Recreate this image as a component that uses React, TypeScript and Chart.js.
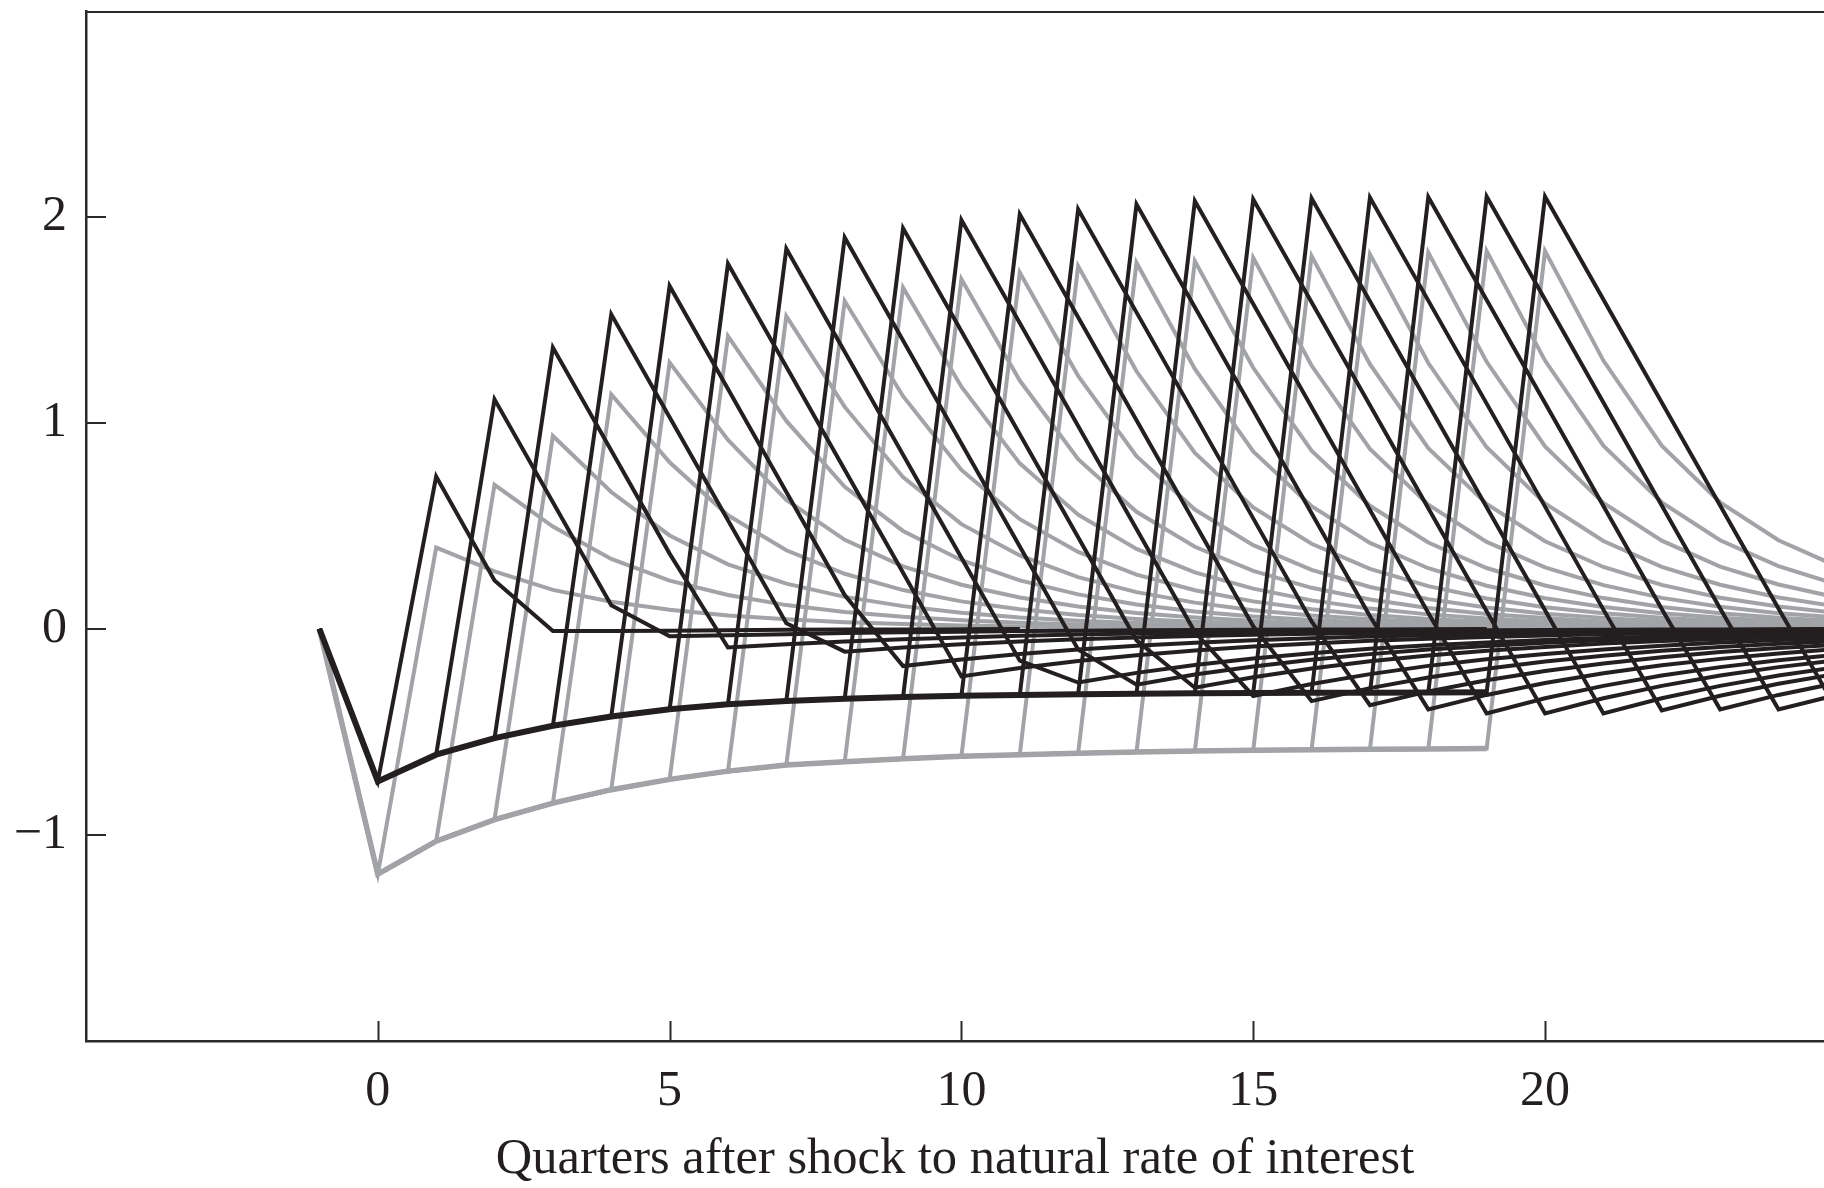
import React, { useEffect, useRef } from 'react';
import { Chart, registerables } from 'chart.js';

Chart.register(...registerables);

// ---------- data ----------
const quarters = [-1, 0, 1, 2, 3, 4, 5, 6, 7, 8, 9, 10, 11, 12, 13, 14, 15, 16, 17, 18, 19, 20, 21, 22, 23, 24, 25];
const xTickValues = [0, 5, 10, 15, 20];
const yTickValues = [-1, 0, 1, 2];
const xTitle = 'Quarters after shock to natural rate of interest';

// common path while the disturbance lasts (t = 0..19)
const envBlack = [-0.74, -0.61, -0.53, -0.47, -0.425, -0.39, -0.365, -0.35, -0.338, -0.33, -0.324, -0.32, -0.317, -0.314, -0.312, -0.311, -0.31, -0.309, -0.308, -0.307];
const envGray = [-1.19, -1.03, -0.925, -0.845, -0.78, -0.73, -0.69, -0.66, -0.645, -0.63, -0.618, -0.61, -0.603, -0.597, -0.592, -0.589, -0.586, -0.584, -0.582, -0.58];

// value in the quarter the disturbance ends (k = 1..20)
const peakBlack = [0.74, 1.115, 1.366, 1.528, 1.665, 1.773, 1.846, 1.9, 1.945, 1.985, 2.013, 2.037, 2.062, 2.078, 2.086, 2.091, 2.094, 2.097, 2.099, 2.099];
const peakGray = [0.395, 0.7, 0.937, 1.139, 1.293, 1.422, 1.519, 1.592, 1.657, 1.698, 1.73, 1.762, 1.778, 1.786, 1.802, 1.811, 1.819, 1.827, 1.835, 1.835];

// path after that quarter
const tailBlack = [
  [0.235, -0.01, -0.01, -0.008, -0.006, -0.004, -0.003, -0.002, -0.001, 0],
  [0.615, 0.115, -0.035, -0.03, -0.025, -0.02, -0.016, -0.013, -0.01, -0.008, -0.006, -0.005, -0.004, -0.003, -0.002, -0.001, 0],
  [0.866, 0.366, -0.09, -0.074, -0.061, -0.05, -0.041, -0.033, -0.027, -0.022, -0.018, -0.015, -0.012, -0.01, -0.008, -0.006, -0.005, -0.004, -0.003, -0.002, -0.001, 0],
  [1.028, 0.528, 0.028, -0.11, -0.09, -0.074, -0.061, -0.05, -0.041, -0.034, -0.028, -0.023, -0.019, -0.015, -0.012, -0.01, -0.008, -0.007, -0.005, -0.004, -0.003],
  [1.165, 0.665, 0.165, -0.18, -0.148, -0.121, -0.099, -0.081, -0.067, -0.055, -0.045, -0.037, -0.03, -0.025, -0.02, -0.017, -0.014, -0.011, -0.009, -0.007],
  [1.273, 0.773, 0.273, -0.23, -0.189, -0.155, -0.127, -0.104, -0.085, -0.07, -0.057, -0.047, -0.039, -0.032, -0.026, -0.021, -0.017, -0.014, -0.012],
  [1.346, 0.846, 0.346, -0.154, -0.26, -0.213, -0.175, -0.143, -0.118, -0.096, -0.079, -0.065, -0.053, -0.044, -0.036, -0.029, -0.024, -0.02],
  [1.4, 0.9, 0.4, -0.1, -0.27, -0.221, -0.182, -0.149, -0.122, -0.1, -0.082, -0.067, -0.055, -0.045, -0.037, -0.031, -0.025],
  [1.445, 0.945, 0.445, -0.055, -0.285, -0.234, -0.192, -0.157, -0.129, -0.106, -0.087, -0.071, -0.058, -0.048, -0.039, -0.032],
  [1.485, 0.985, 0.485, -0.015, -0.325, -0.267, -0.219, -0.179, -0.147, -0.121, -0.099, -0.081, -0.066, -0.054, -0.045],
  [1.513, 1.013, 0.513, 0.013, -0.35, -0.287, -0.235, -0.193, -0.158, -0.13, -0.106, -0.087, -0.072, -0.059],
  [1.537, 1.037, 0.537, 0.037, -0.37, -0.303, -0.249, -0.204, -0.167, -0.137, -0.112, -0.092, -0.076],
  [1.562, 1.062, 0.562, 0.062, -0.39, -0.32, -0.262, -0.215, -0.176, -0.145, -0.119, -0.097],
  [1.578, 1.078, 0.578, 0.078, -0.41, -0.336, -0.276, -0.226, -0.185, -0.152, -0.125],
  [1.586, 1.086, 0.586, 0.086, -0.41, -0.336, -0.276, -0.226, -0.185, -0.152],
  [1.591, 1.091, 0.591, 0.091, -0.41, -0.336, -0.276, -0.226, -0.185],
  [1.594, 1.094, 0.594, 0.094, -0.395, -0.324, -0.266, -0.218],
  [1.597, 1.097, 0.597, 0.097, -0.39, -0.32, -0.262],
  [1.599, 1.099, 0.599, 0.099, -0.39, -0.32],
  [1.599, 1.099, 0.599, 0.099, -0.39],
];

const tailGray = [
  [0.28, 0.19, 0.132, 0.093, 0.066, 0.047, 0.033, 0.024, 0.017, 0.012, 0.009, 0.006, 0.004, 0.003, 0.002, 0.002, 0.001, 0.001, 0],
  [0.497, 0.34, 0.235, 0.165, 0.116, 0.083, 0.059, 0.042, 0.03, 0.022, 0.015, 0.011, 0.008, 0.006, 0.004, 0.003, 0.002, 0.001, 0.001, 0],
  [0.665, 0.454, 0.314, 0.22, 0.156, 0.111, 0.079, 0.056, 0.04, 0.029, 0.021, 0.015, 0.01, 0.007, 0.005, 0.004, 0.003, 0.002, 0.001, 0.001, 0],
  [0.809, 0.552, 0.382, 0.268, 0.189, 0.134, 0.096, 0.068, 0.049, 0.035, 0.025, 0.018, 0.013, 0.009, 0.007, 0.005, 0.003, 0.002, 0.002, 0.001, 0.001],
  [0.918, 0.627, 0.433, 0.304, 0.215, 0.153, 0.109, 0.078, 0.056, 0.04, 0.028, 0.021, 0.014, 0.01, 0.008, 0.005, 0.004, 0.003, 0.002, 0.001],
  [1.01, 0.69, 0.476, 0.334, 0.236, 0.168, 0.119, 0.085, 0.061, 0.044, 0.031, 0.023, 0.016, 0.011, 0.009, 0.006, 0.004, 0.003, 0.002],
  [1.078, 0.737, 0.509, 0.357, 0.252, 0.179, 0.128, 0.091, 0.065, 0.047, 0.033, 0.024, 0.017, 0.012, 0.009, 0.006, 0.005, 0.003],
  [1.13, 0.772, 0.533, 0.374, 0.264, 0.188, 0.134, 0.096, 0.068, 0.049, 0.035, 0.025, 0.018, 0.013, 0.01, 0.006, 0.005],
  [1.176, 0.804, 0.555, 0.389, 0.275, 0.196, 0.139, 0.099, 0.071, 0.051, 0.036, 0.027, 0.018, 0.013, 0.01, 0.007],
  [1.206, 0.824, 0.569, 0.399, 0.282, 0.2, 0.143, 0.102, 0.073, 0.053, 0.037, 0.027, 0.019, 0.014, 0.01],
  [1.228, 0.839, 0.58, 0.407, 0.287, 0.204, 0.145, 0.104, 0.074, 0.054, 0.038, 0.028, 0.019, 0.014],
  [1.251, 0.855, 0.59, 0.414, 0.292, 0.208, 0.148, 0.106, 0.076, 0.055, 0.039, 0.028, 0.019],
  [1.262, 0.862, 0.596, 0.418, 0.295, 0.21, 0.149, 0.107, 0.076, 0.055, 0.039, 0.028],
  [1.268, 0.866, 0.598, 0.42, 0.296, 0.211, 0.15, 0.107, 0.077, 0.055, 0.039],
  [1.279, 0.874, 0.604, 0.423, 0.299, 0.213, 0.151, 0.108, 0.077, 0.056],
  [1.286, 0.878, 0.607, 0.426, 0.301, 0.214, 0.152, 0.109, 0.078],
  [1.291, 0.882, 0.609, 0.427, 0.302, 0.215, 0.153, 0.109],
  [1.297, 0.886, 0.612, 0.429, 0.303, 0.216, 0.153],
  [1.303, 0.89, 0.615, 0.431, 0.305, 0.217],
  [1.303, 0.89, 0.615, 0.431, 0.305],
];

// ---------- styles ----------
const BLACK = '#231f20';
const GRAY = '#a2a3a7';
const AXIS = '#2a2a2a';
const FONT = "'Liberation Serif', 'Times New Roman', serif";

function buildPath(env: number[], peak: number, tail: number[], k: number) {
  const ys = [0, ...env.slice(0, k), peak, ...tail];
  return ys.map((y, i) => ({ x: quarters[i], y }));
}

function buildEnvelope(env: number[]) {
  const ys = [0, ...env];
  return ys.map((y, i) => ({ x: quarters[i], y }));
}

const framePlugin = {
  id: 'frame',
  beforeDatasetsDraw(chart: any) {
    const { ctx, chartArea, scales } = chart;
    ctx.save();
    ctx.strokeStyle = AXIS;
    ctx.lineWidth = 2;
    ctx.beginPath();
    ctx.moveTo(chartArea.left, chartArea.top + 1);
    ctx.lineTo(chartArea.right, chartArea.top + 1);
    xTickValues.forEach((v) => {
      const px = Math.round(scales.x.getPixelForValue(v)) + 0.5;
      ctx.moveTo(px, chartArea.bottom);
      ctx.lineTo(px, chartArea.bottom - 20);
    });
    yTickValues.forEach((v) => {
      const py = Math.round(scales.y.getPixelForValue(v));
      ctx.moveTo(chartArea.left, py);
      ctx.lineTo(chartArea.left + 20, py);
    });
    ctx.stroke();
    ctx.restore();
  },
};

export default function App() {
  const canvasRef = useRef<HTMLCanvasElement | null>(null);

  useEffect(() => {
    const canvas = canvasRef.current;
    if (!canvas) return;

    const blackSets: any[] = [];
    const graySets: any[] = [];
    blackSets.push({
      label: 'black envelope',
      data: buildEnvelope(envBlack),
      borderColor: BLACK,
      borderWidth: 6,
    });
    for (let k = 1; k <= peakBlack.length; k++) {
      blackSets.push({
        label: 'black ' + k,
        data: buildPath(envBlack, peakBlack[k - 1], tailBlack[k - 1], k),
        borderColor: BLACK,
        borderWidth: 4,
      });
    }
    graySets.push({
      label: 'gray envelope',
      data: buildEnvelope(envGray),
      borderColor: GRAY,
      borderWidth: 5.5,
    });
    for (let k = 1; k <= peakGray.length; k++) {
      graySets.push({
        label: 'gray ' + k,
        data: buildPath(envGray, peakGray[k - 1], tailGray[k - 1], k),
        borderColor: GRAY,
        borderWidth: 4,
      });
    }

    const chart = new Chart(canvas, {
      type: 'line',
      data: { datasets: [...blackSets, ...graySets] },
      options: {
        animation: false,
        responsive: false,
        devicePixelRatio: 1,
        events: [],
        layout: { padding: { top: 11, right: 0, left: 0, bottom: 0 } },
        elements: {
          point: { radius: 0 },
          line: { tension: 0, borderJoinStyle: 'miter', borderCapStyle: 'butt', fill: false },
        },
        plugins: {
          legend: { display: false },
          tooltip: { enabled: false },
          title: { display: false },
        },
        scales: {
          x: {
            type: 'linear',
            min: -5,
            max: 24.78,
            grid: { display: false, drawTicks: false },
            border: { display: true, color: AXIS, width: 2.5 },
            afterBuildTicks: (scale: any) => {
              scale.ticks = xTickValues.map((v) => ({ value: v }));
            },
            afterFit: (scale: any) => {
              scale.height = 147;
              scale.paddingLeft = 0;
              scale.paddingRight = 0;
            },
            ticks: {
              autoSkip: false,
              maxRotation: 0,
              padding: 21,
              color: BLACK,
              font: { family: FONT, size: 50 },
              callback: (v: any) => String(v),
            },
            title: {
              display: true,
              text: xTitle,
              color: BLACK,
              font: { family: FONT, size: 50.5, lineHeight: 1.0 },
              padding: { top: 0, bottom: 3 },
            },
          },
          y: {
            type: 'linear',
            min: -2,
            max: 3,
            grid: { display: false, drawTicks: false },
            border: { display: true, color: AXIS, width: 2.5 },
            afterBuildTicks: (scale: any) => {
              scale.ticks = yTickValues.map((v) => ({ value: v }));
            },
            afterFit: (scale: any) => {
              scale.width = 86;
              scale.paddingTop = 0;
              scale.paddingBottom = 0;
            },
            ticks: {
              autoSkip: false,
              padding: 19,
              color: BLACK,
              font: { family: FONT, size: 50 },
              callback: (v: any) => (Number(v) < 0 ? '\u2212' + Math.abs(Number(v)) : String(v)),
            },
          },
        },
      },
      plugins: [framePlugin],
    });

    return () => {
      chart.destroy();
    };
  }, []);

  return (
    <div style={{ position: 'absolute', left: 0, top: 0, width: 1824, height: 1188, background: '#ffffff', overflow: 'hidden' }}>
      <canvas ref={canvasRef} width={1824} height={1188} style={{ display: 'block', width: 1824, height: 1188 }} />
    </div>
  );
}
